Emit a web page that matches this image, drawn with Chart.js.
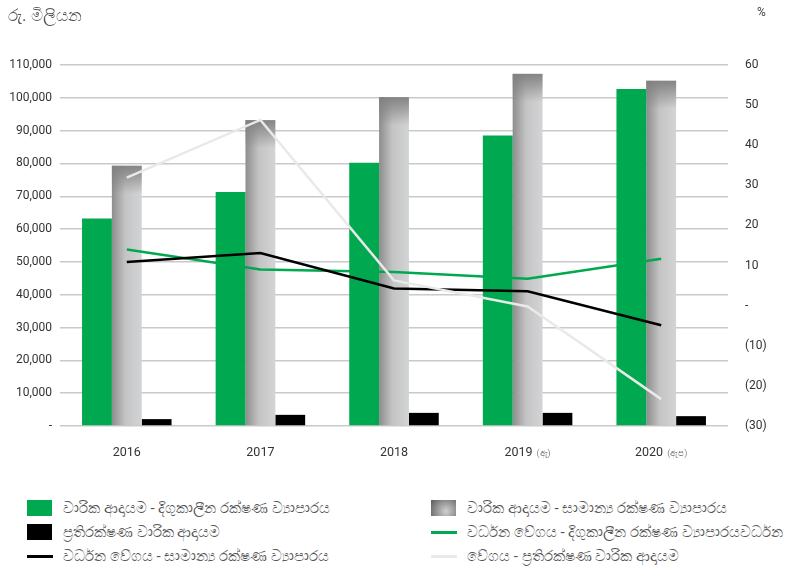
<!DOCTYPE html>
<html>
<head>
<meta charset="utf-8">
<script src="https://cdn.jsdelivr.net/npm/chart.js@4/dist/chart.umd.min.js"></script>
<style>
  body { margin: 0; background: #fff; width: 795px; height: 573px; overflow: hidden; position: relative; font-family: Roboto, "Noto Sans", sans-serif; }
  #wrap { position: absolute; left: 0; top: 0; width: 795px; height: 480px; }
  .ytitle { position: absolute; left: 8px; top: 5px; font-size: 17px; color: #555; }
  .pct { position: absolute; left: 757px; top: 5px; font-size: 12px; color: #444; }
  .legend { position: absolute; top: 497px; font-size: 15px; color: #555; white-space: nowrap; }
  .legend div { height: 24px; line-height: 22px; position: relative; padding-left: 36px; }
  .legend i { position: absolute; left: 0; }
  .box { top: 3px; width: 25px; height: 16px; }
  .ln { top: 10px; width: 26px; height: 3px; }
</style>
</head>
<body>
<div id="wrap"><canvas id="lineChart" width="795" height="480"></canvas></div>
<div class="ytitle">රු. මිලියන</div>
<div class="pct">%</div>
<div class="legend" id="legL" style="left:27px"></div>
<div class="legend" id="legR" style="left:431px;width:364px;overflow:hidden"></div>
<script>
// data
var years = ['2016', '2017', '2018', '2019', '2020'];
var yearNotes = ['', '', '', '(ඇ)', '(ඇප)'];

var longTermPremium = [63200, 71300, 80200, 88500, 102700];
var generalPremium = [79300, 93200, 100200, 107300, 105200];
var reinsurancePremium = [2100, 3400, 4000, 4000, 3000];

var longTermGrowth = [14, 9, 8.4, 6.7, 11.7];
var generalGrowth = [10.9, 13.1, 4.3, 3.6, -4.9];
var reinsuranceGrowth = [31.9, 46.3, 6.3, -0.2, -23.3];

var names = [
    'වාරික ආදායම - දිගුකාලීන රක්ෂණ ව්‍යාපාරය',
    'වාරික ආදායම - සාමාන්‍ය රක්ෂණ ව්‍යාපාරය',
    'ප්‍රතිරක්ෂණ වාරික ආදායම',
    'වර්ධන වේගය - දිගුකාලීන රක්ෂණ ව්‍යාපාරයවර්ධන',
    'වර්ධන වේගය - සාමාන්‍ය රක්ෂණ ව්‍යාපාරය',
    'වේගය - ප්‍රතිරක්ෂණ වාරික ආදායම'
];

var green = '#00a84f';
var tickFont = { family: 'Roboto', size: 12 };

// gray bars with shaded gradient
var shadedBars = {
    id: 'shadedBars',
    beforeDatasetDraw: function(chart, args){
        if (args.index !== 1) return;
        var ctx = chart.ctx;
        var meta = chart.getDatasetMeta(1);
        ctx.save();
        meta.data.forEach(function(bar){
            var left = bar.x - bar.width / 2, right = bar.x + bar.width / 2;
            var g = ctx.createLinearGradient(left, 0, right, 0);
            g.addColorStop(0, '#8d8d8d');
            g.addColorStop(0.45, '#c4c4c4');
            g.addColorStop(1, '#d3d4d6');
            ctx.fillStyle = g;
            ctx.fillRect(left, bar.y, bar.width, bar.base - bar.y);
            var v = ctx.createLinearGradient(0, bar.y, 0, bar.y + 28);
            v.addColorStop(0, 'rgba(128,128,128,0.95)');
            v.addColorStop(0.4, 'rgba(128,128,128,0.6)');
            v.addColorStop(1, 'rgba(128,128,128,0)');
            ctx.fillStyle = v;
            ctx.fillRect(left, bar.y, bar.width, 28);
        });
        ctx.restore();
        return false;
    }
};

// x labels with small note
var yearLabels = {
    id: 'yearLabels',
    afterDraw: function(chart){
        var ctx = chart.ctx;
        var xs = chart.scales.x;
        var y = chart.chartArea.bottom + 27;
        ctx.save();
        ctx.textBaseline = 'middle';
        years.forEach(function(yr, i){
            ctx.font = '12.5px Roboto';
            var w1 = ctx.measureText(yr).width;
            ctx.font = '9px Roboto';
            var w2 = yearNotes[i] ? ctx.measureText(yearNotes[i]).width + 4 : 0;
            var x0 = xs.getPixelForValue(i) - (w1 + w2) / 2;
            ctx.font = '12.5px Roboto';
            ctx.fillStyle = '#333';
            ctx.textAlign = 'left';
            ctx.fillText(yr, x0, y);
            if (yearNotes[i]) {
                ctx.font = '9px Roboto';
                ctx.fillStyle = '#888';
                ctx.fillText(yearNotes[i], x0 + w1 + 4, y + 1);
            }
        });
        ctx.restore();
    }
};

var lineChart = new Chart(document.getElementById('lineChart'), {
    type: 'bar',
    data: {
        labels: years,
        datasets: [
            { label: names[0], data: longTermPremium, backgroundColor: green, order: 10, yAxisID: 'y' },
            { label: names[1], data: generalPremium, backgroundColor: '#b0b0b0', order: 10, yAxisID: 'y' },
            { label: names[2], data: reinsurancePremium, backgroundColor: '#000', order: 10, yAxisID: 'y' },
            { type: 'line', label: names[3], data: longTermGrowth, borderColor: green, borderWidth: 2.5, pointRadius: 0, tension: 0, order: 3, yAxisID: 'y1' },
            { type: 'line', label: names[4], data: generalGrowth, borderColor: '#000', borderWidth: 2.5, pointRadius: 0, tension: 0, order: 2, yAxisID: 'y1' },
            { type: 'line', label: names[5], data: reinsuranceGrowth, borderColor: '#e9e9e9', borderWidth: 2.5, pointRadius: 0, tension: 0, order: 1, yAxisID: 'y1' }
        ]
    },
    options: {
        responsive: false,
        animation: false,
        devicePixelRatio: 1,
        layout: { padding: { top: 65, left: 0, right: 0, bottom: 0 } },
        datasets: { bar: { barPercentage: 1, categoryPercentage: 0.67 } },
        plugins: { legend: { display: false }, tooltip: { enabled: false } },
        scales: {
            x: {
                grid: { display: false },
                border: { display: false },
                ticks: { display: false },
                afterFit: function(s){ s.height = 54; }
            },
            y: {
                position: 'left',
                min: 0, max: 110000,
                ticks: {
                    stepSize: 10000, color: '#333', font: tickFont, padding: 8,
                    callback: function(v){ return v === 0 ? '-' : v.toLocaleString('en-US'); }
                },
                grid: { color: '#c9c9c9', lineWidth: 1.5, drawTicks: false },
                border: { display: false },
                afterFit: function(s){ s.width = 60; }
            },
            y1: {
                position: 'right',
                min: -30, max: 60,
                ticks: {
                    stepSize: 10, color: '#333', font: tickFont, padding: 17,
                    callback: function(v){ return v === 0 ? '-' : (v < 0 ? '(' + (-v) + ')' : v); }
                },
                grid: { display: false, drawTicks: false },
                border: { display: false },
                afterFit: function(s){ s.width = 67; }
            }
        }
    },
    plugins: [shadedBars, yearLabels]
});

// legend, two columns as in the source
function legendRow(el, kind, color, text){
    var d = document.createElement('div');
    var i = document.createElement('i');
    i.className = kind;
    i.style.background = color;
    d.appendChild(i);
    d.appendChild(document.createTextNode(text));
    el.appendChild(d);
}
var legL = document.getElementById('legL');
var legR = document.getElementById('legR');
legendRow(legL, 'box', green, names[0]);
legendRow(legL, 'box', '#000', names[2]);
legendRow(legL, 'ln', '#000', names[4]);
legendRow(legR, 'box', 'radial-gradient(circle at 60% 70%, #d0d0d0, #5a5a5a)', names[1]);
legendRow(legR, 'ln', green, names[3]);
legendRow(legR, 'ln', '#e9e9e9', names[5]);
</script>
</body>
</html>
